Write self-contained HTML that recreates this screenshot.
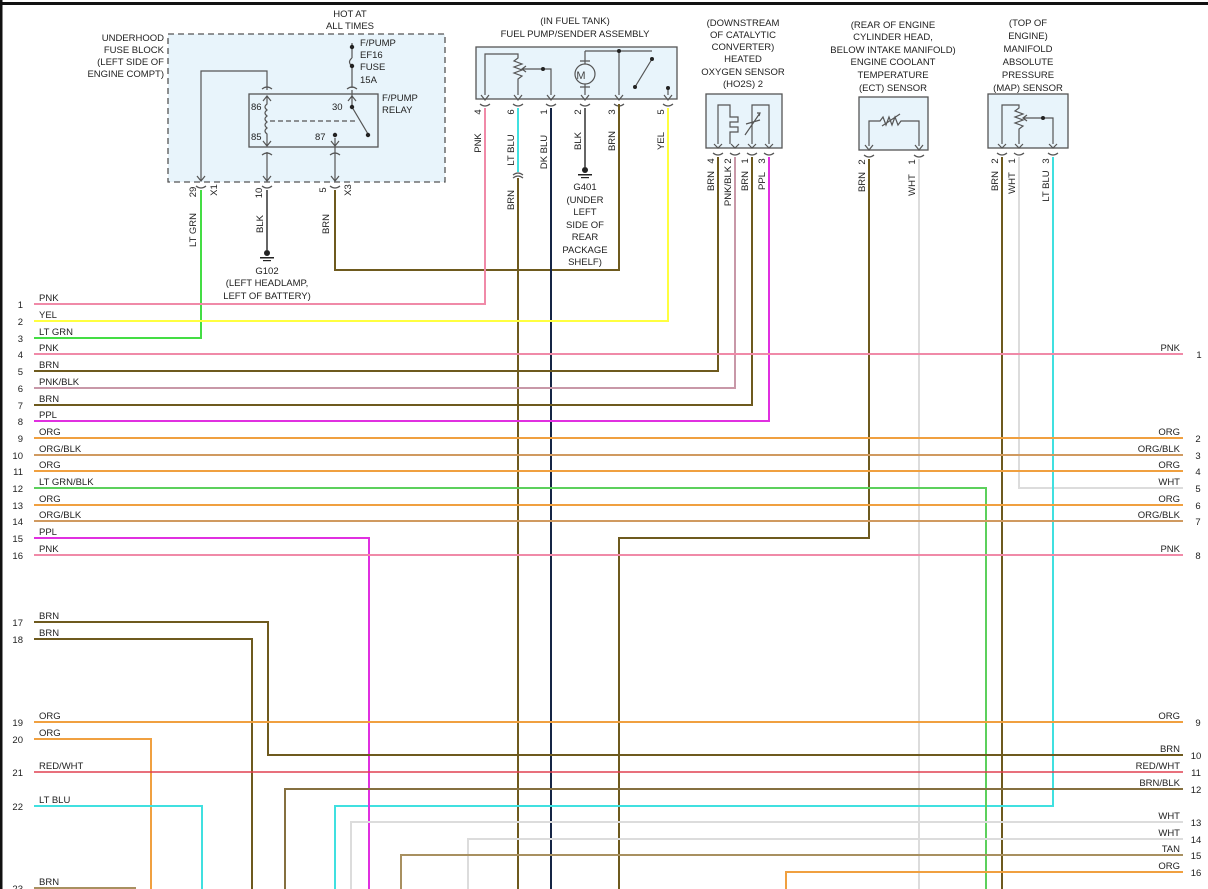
<!DOCTYPE html>
<html><head><meta charset="utf-8"><style>
html,body{margin:0;padding:0;background:#fff;}
svg{display:block;font-family:"Liberation Sans",sans-serif;font-size:9.5px;fill:#222;}
</style></head><body>
<svg width="1208" height="889" viewBox="0 0 1208 889" xmlns="http://www.w3.org/2000/svg">
<rect x="0" y="0" width="1208" height="889" fill="#fff"/>
<line x1="0" y1="3.5" x2="1208" y2="3.5" stroke="#111" stroke-width="3"/>
<line x1="1" y1="0" x2="1" y2="889" stroke="#111" stroke-width="3"/>

<!-- boxes -->
<rect x="168" y="34" width="277" height="148" fill="#e8f4fb" stroke="#555" stroke-width="1.3" stroke-dasharray="6,4"/>
<rect x="249" y="94" width="129" height="53" fill="#e8f4fb" stroke="#555" stroke-width="1.3"/>
<rect x="476" y="47" width="201" height="52" fill="#e8f4fb" stroke="#555" stroke-width="1.3"/>
<rect x="706" y="94" width="76" height="54" fill="#e8f4fb" stroke="#555" stroke-width="1.3"/>
<rect x="859" y="97" width="69" height="53" fill="#e8f4fb" stroke="#555" stroke-width="1.3"/>
<rect x="988" y="94" width="80" height="54" fill="#e8f4fb" stroke="#555" stroke-width="1.3"/>

<g fill="none" stroke="#555" stroke-width="1.2">
<!-- fuse block internals -->
<path d="M352 43 V58 M352 66 V88"/>
<path d="M352 58 Q347 62 352 66"/>
<path d="M267 90 V71 H201 V180"/>
<path d="M267 97 V104 q-4 3 0 6 q-4 3 0 6 q-4 3 0 6 q-4 3 0 6 q-4 3 0 6 V145"/>
<path d="M270 121 H357" stroke-dasharray="5,3"/>
<path d="M352 97 V107 L368 134"/>
<path d="M335 138 V180 M352 97 V90"/>
<path d="M267 152 V180"/>
<!-- arrows -->
<path d="M197 176 L201 181 L205 176 M263 176 L267 181 L271 176 M331 176 L335 181 L339 176 M263 101 L267 96 L271 101 M348 101 L352 96 L356 101 M263 141 L267 146 L271 141 M331 141 L335 146 L339 141"/>
<!-- connector arcs -->
<path d="M262 89 Q267 85 272 89 M347 89 Q352 85 357 89 M262 155 Q267 151 272 155 M330 155 Q335 151 340 155 M196 186 Q201 190 206 186 M262 186 Q267 190 272 186 M330 186 Q335 190 340 186"/>
<!-- fuel pump internals -->
<path d="M485 95 V54 H518 V58 l-4 3 l8 3 l-8 3 l8 3 l-8 3 l8 3 l-4 3 V95"/>
<path d="M543 69 H523 M526 66 L522 69 L526 72 M543 69 H551 V95"/>
<circle cx="585" cy="74" r="10"/>
<path d="M585 51 V64 M585 84 V95 M580 61 H590 M580 87 H590 M585 51 H652 M619 51 V95 M652 59 L635 87"/>
<path d="M481 95 L485 100 L489 95 M514 95 L518 100 L522 95 M547 95 L551 100 L555 95 M581 95 L585 100 L589 95 M615 95 L619 100 L623 95 M664 95 L668 100 L672 95"/>
<path d="M480 104 Q485 108 490 104 M513 104 Q518 108 523 104 M546 104 Q551 108 556 104 M580 104 Q585 108 590 104 M614 104 Q619 108 624 104 M663 104 Q668 108 673 104 M668 88 V95"/>
<path d="M513 175 Q518 171 523 175 M513 178 Q518 174 523 178"/>
<!-- HO2S -->
<path d="M718 144 V105 H730 V117 H738 V122 H730 V127 H738 V132 H730 V144 M752 144 V105 H769 V144 M746 124 L760 120 M745 135 L760 113 M757 113 L760 113 L759 116"/>
<path d="M714 144 L718 148 L722 144 M731 144 L735 148 L739 144 M748 144 L752 148 L756 144 M765 144 L769 148 L773 144"/>
<path d="M713 153 Q718 157 723 153 M730 153 Q735 157 740 153 M747 153 Q752 157 757 153 M764 153 Q769 157 774 153"/>
<!-- ECT -->
<path d="M869 146 V121 H880 l3 -4 l3 8 l3 -8 l3 8 l3 -8 l3 8 l3 -4 H919 V146 M882 126 L900 114"/>
<path d="M865 145 L869 150 L873 145 M915 145 L919 150 L923 145 M864 155 Q869 159 874 155 M914 155 Q919 159 924 155"/>
<!-- MAP -->
<path d="M1002 144 V105 H1019 V108 l-4 3 l8 3 l-8 3 l8 3 l-8 3 l8 3 l-4 3 V144 M1043 118 H1024 M1027 115 L1023 118 L1027 121 M1043 118 H1053 V144"/>
<path d="M998 144 L1002 148 L1006 144 M1015 144 L1019 148 L1023 144 M1049 144 L1053 148 L1057 144 M997 153 Q1002 157 1007 153 M1014 153 Q1019 157 1024 153 M1048 153 Q1053 157 1058 153"/>
</g>
<g fill="#222">
<circle cx="352" cy="47" r="2.2"/><circle cx="352" cy="66" r="2.2"/><circle cx="352" cy="107" r="2.2"/><circle cx="368" cy="135" r="2.2"/><circle cx="335" cy="135" r="2.2"/>
<circle cx="543" cy="69" r="2"/><circle cx="619" cy="51" r="2"/><circle cx="652" cy="59" r="2"/><circle cx="635" cy="87" r="2"/><circle cx="668" cy="88" r="2"/><circle cx="1043" cy="118" r="2"/>
<circle cx="267" cy="253" r="3"/><rect x="260" y="257" width="14" height="1.5"/><rect x="263" y="260" width="8" height="1.2"/>
<circle cx="585" cy="170" r="3"/><rect x="578" y="174" width="14" height="1.5"/><rect x="581" y="177" width="8" height="1.2"/>
</g>
<text x="581" y="79" text-anchor="middle" font-size="11" fill="#444">M</text>

<!-- wires -->
<g fill="none" stroke-width="2">
<path d="M201 190 V338 H34" stroke="#44dd44"/>
<path d="M267 190 V250" stroke="#666"/>
<path d="M335 190 V270 H619 V104" stroke="#6e5a1e"/>
<path d="M485 108 V304 H34" stroke="#f08aa8"/>
<path d="M518 108 V172" stroke="#40e0e0"/>
<path d="M518 178 V889" stroke="#6e5a1e"/>
<path d="M551 108 V889" stroke="#152545"/>
<path d="M585 108 V167" stroke="#666"/>
<path d="M668 108 V321 H34" stroke="#ffff40"/>
<path d="M718 157 V371 H34" stroke="#6e5a1e"/>
<path d="M735 157 V388 H34" stroke="#c898a8"/>
<path d="M752 157 V405 H34" stroke="#6e5a1e"/>
<path d="M769 157 V421 H34" stroke="#e030e0"/>
<path d="M869 159 V538 H619 V889" stroke="#6e5a1e"/>
<path d="M919 159 V889" stroke="#dcdcdc"/>
<path d="M1002 157 V889" stroke="#6e5a1e"/>
<path d="M1019 157 V488 H1183" stroke="#dcdcdc"/>
<path d="M1053 157 V806 H335 V889" stroke="#40e0e0"/>
<path d="M34 354 H1183" stroke="#f08aa8"/>
<path d="M34 438 H1183" stroke="#f0a040"/>
<path d="M34 455 H1183" stroke="#d09a60"/>
<path d="M34 471 H1183" stroke="#f0a040"/>
<path d="M34 488 H986 V889" stroke="#5cd05c"/>
<path d="M34 505 H1183" stroke="#f0a040"/>
<path d="M34 521 H1183" stroke="#d09a60"/>
<path d="M34 538 H369 V889" stroke="#e030e0"/>
<path d="M34 555 H1183" stroke="#f08aa8"/>
<path d="M34 622 H268 V755 H1183" stroke="#6e5a1e"/>
<path d="M34 639 H252 V889" stroke="#6e5a1e"/>
<path d="M34 722 H1183" stroke="#f0a040"/>
<path d="M34 739 H151 V889" stroke="#f0a040"/>
<path d="M34 772 H1183" stroke="#e04050" stroke-width="1.5"/>
<path d="M1183 789 H285 V889" stroke="#857040"/>
<path d="M34 806 H202 V889" stroke="#40e0e0"/>
<path d="M1183 822 H351 V889" stroke="#dcdcdc"/>
<path d="M1183 839 H468 V889" stroke="#dcdcdc"/>
<path d="M1183 855 H401 V889" stroke="#a89060"/>
<path d="M1183 872 H786 V889" stroke="#f0a040"/>
<path d="M34 888 H136" stroke="#a89060"/>
</g>

<!-- top labels -->
<g text-anchor="middle">
<text x="350" y="17">HOT AT</text><text x="350" y="29">ALL TIMES</text>
<text x="575" y="24">(IN FUEL TANK)</text><text x="575" y="37">FUEL PUMP/SENDER ASSEMBLY</text>
<text x="743" y="26">(DOWNSTREAM</text><text x="743" y="38">OF CATALYTIC</text><text x="743" y="50">CONVERTER)</text><text x="743" y="62">HEATED</text><text x="743" y="75">OXYGEN SENSOR</text><text x="743" y="87">(HO2S) 2</text>
<text x="893" y="28">(REAR OF ENGINE</text><text x="893" y="40">CYLINDER HEAD,</text><text x="893" y="53">BELOW INTAKE MANIFOLD)</text><text x="893" y="65">ENGINE COOLANT</text><text x="893" y="78">TEMPERATURE</text><text x="893" y="91">(ECT) SENSOR</text>
<text x="1028" y="26">(TOP OF</text><text x="1028" y="39">ENGINE)</text><text x="1028" y="52">MANIFOLD</text><text x="1028" y="65">ABSOLUTE</text><text x="1028" y="78">PRESSURE</text><text x="1028" y="91">(MAP) SENSOR</text>
<text x="267" y="274">G102</text><text x="267" y="286">(LEFT HEADLAMP,</text><text x="267" y="299">LEFT OF BATTERY)</text>
<text x="585" y="190">G401</text><text x="585" y="203">(UNDER</text><text x="585" y="215">LEFT</text><text x="585" y="228">SIDE OF</text><text x="585" y="240">REAR</text><text x="585" y="253">PACKAGE</text><text x="585" y="265">SHELF)</text>
</g>
<g text-anchor="end">
<text x="164" y="41">UNDERHOOD</text><text x="164" y="53">FUSE BLOCK</text><text x="164" y="65">(LEFT SIDE OF</text><text x="164" y="77">ENGINE COMPT)</text>
</g>
<text x="360" y="46">F/PUMP</text><text x="360" y="58">EF16</text><text x="360" y="70">FUSE</text><text x="360" y="83">15A</text>
<text x="382" y="101">F/PUMP</text><text x="382" y="113">RELAY</text>
<text x="251" y="110">86</text><text x="251" y="140">85</text><text x="332" y="110">30</text><text x="315" y="140">87</text>

<!-- rotated labels: (x,y center) -->
<g text-anchor="middle">
<text transform="translate(196,192) rotate(-90)">29</text>
<text transform="translate(217,190) rotate(-90)">X1</text>
<text transform="translate(262,193) rotate(-90)">10</text>
<text transform="translate(326,190) rotate(-90)">5</text>
<text transform="translate(351,190) rotate(-90)">X3</text>
<text transform="translate(196,230) rotate(-90)">LT GRN</text>
<text transform="translate(263,224) rotate(-90)">BLK</text>
<text transform="translate(329,224) rotate(-90)">BRN</text>
<text transform="translate(481,112) rotate(-90)">4</text>
<text transform="translate(514,112) rotate(-90)">6</text>
<text transform="translate(547,112) rotate(-90)">1</text>
<text transform="translate(581,112) rotate(-90)">2</text>
<text transform="translate(615,112) rotate(-90)">3</text>
<text transform="translate(664,112) rotate(-90)">5</text>
<text transform="translate(481,143) rotate(-90)">PNK</text>
<text transform="translate(514,150) rotate(-90)">LT BLU</text>
<text transform="translate(547,152) rotate(-90)">DK BLU</text>
<text transform="translate(581,141) rotate(-90)">BLK</text>
<text transform="translate(615,141) rotate(-90)">BRN</text>
<text transform="translate(664,141) rotate(-90)">YEL</text>
<text transform="translate(514,200) rotate(-90)">BRN</text>
<text transform="translate(714,161) rotate(-90)">4</text>
<text transform="translate(731,161) rotate(-90)">2</text>
<text transform="translate(748,161) rotate(-90)">1</text>
<text transform="translate(765,161) rotate(-90)">3</text>
<text transform="translate(714,181) rotate(-90)">BRN</text>
<text transform="translate(731,186) rotate(-90)">PNK/BLK</text>
<text transform="translate(748,181) rotate(-90)">BRN</text>
<text transform="translate(765,181) rotate(-90)">PPL</text>
<text transform="translate(865,162) rotate(-90)">2</text>
<text transform="translate(915,162) rotate(-90)">1</text>
<text transform="translate(865,182) rotate(-90)">BRN</text>
<text transform="translate(915,185) rotate(-90)">WHT</text>
<text transform="translate(998,161) rotate(-90)">2</text>
<text transform="translate(1015,161) rotate(-90)">1</text>
<text transform="translate(1049,161) rotate(-90)">3</text>
<text transform="translate(998,181) rotate(-90)">BRN</text>
<text transform="translate(1015,183) rotate(-90)">WHT</text>
<text transform="translate(1049,186) rotate(-90)">LT BLU</text>
</g>

<!-- left row labels -->
<g text-anchor="end">
<text x="23" y="308">1</text><text x="23" y="325">2</text><text x="23" y="342">3</text><text x="23" y="358">4</text><text x="23" y="375">5</text><text x="23" y="392">6</text><text x="23" y="409">7</text><text x="23" y="425">8</text><text x="23" y="442">9</text><text x="23" y="459">10</text><text x="23" y="475">11</text><text x="23" y="492">12</text><text x="23" y="509">13</text><text x="23" y="525">14</text><text x="23" y="542">15</text><text x="23" y="559">16</text><text x="23" y="626">17</text><text x="23" y="643">18</text><text x="23" y="726">19</text><text x="23" y="743">20</text><text x="23" y="776">21</text><text x="23" y="810">22</text><text x="23" y="892">23</text>
</g>
<g>
<text x="39" y="301">PNK</text><text x="39" y="318">YEL</text><text x="39" y="335">LT GRN</text><text x="39" y="351">PNK</text><text x="39" y="368">BRN</text><text x="39" y="385">PNK/BLK</text><text x="39" y="402">BRN</text><text x="39" y="418">PPL</text><text x="39" y="435">ORG</text><text x="39" y="452">ORG/BLK</text><text x="39" y="468">ORG</text><text x="39" y="485">LT GRN/BLK</text><text x="39" y="502">ORG</text><text x="39" y="518">ORG/BLK</text><text x="39" y="535">PPL</text><text x="39" y="552">PNK</text><text x="39" y="619">BRN</text><text x="39" y="636">BRN</text><text x="39" y="719">ORG</text><text x="39" y="736">ORG</text><text x="39" y="769">RED/WHT</text><text x="39" y="803">LT BLU</text><text x="39" y="885">BRN</text>
</g>
<!-- right labels -->
<g text-anchor="end">
<text x="1180" y="351">PNK</text><text x="1180" y="435">ORG</text><text x="1180" y="452">ORG/BLK</text><text x="1180" y="468">ORG</text><text x="1180" y="485">WHT</text><text x="1180" y="502">ORG</text><text x="1180" y="518">ORG/BLK</text><text x="1180" y="552">PNK</text><text x="1180" y="719">ORG</text><text x="1180" y="752">BRN</text><text x="1180" y="769">RED/WHT</text><text x="1180" y="786">BRN/BLK</text><text x="1180" y="819">WHT</text><text x="1180" y="836">WHT</text><text x="1180" y="852">TAN</text><text x="1180" y="869">ORG</text>
</g>
<g text-anchor="middle">
<text x="1199" y="358">1</text><text x="1198" y="442">2</text><text x="1198" y="459">3</text><text x="1198" y="475">4</text><text x="1198" y="492">5</text><text x="1198" y="509">6</text><text x="1198" y="525">7</text><text x="1198" y="559">8</text><text x="1198" y="726">9</text><text x="1196" y="759">10</text><text x="1196" y="776">11</text><text x="1196" y="793">12</text><text x="1196" y="826">13</text><text x="1196" y="843">14</text><text x="1196" y="859">15</text><text x="1196" y="876">16</text>
</g>
</svg>
</body></html>
